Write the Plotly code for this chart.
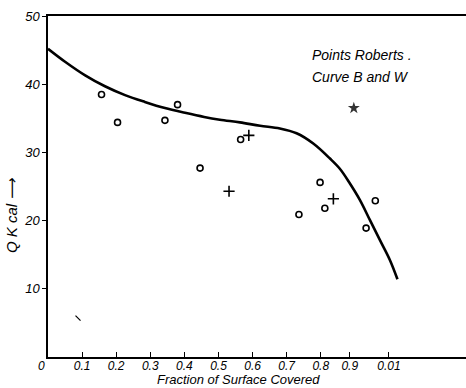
import plotly.graph_objects as go

# Curve B and W
curve_x = [0.0, 0.05, 0.109, 0.167, 0.226, 0.284, 0.343, 0.402, 0.458, 0.504, 0.563, 0.622, 0.68, 0.729, 0.778, 0.827, 0.856, 0.886, 0.915, 0.944, 0.974, 1.003, 1.025]
curve_y = [45.2, 43.3, 41.3, 39.7, 38.4, 37.4, 36.5, 35.8, 35.2, 34.8, 34.4, 33.9, 33.5, 32.8, 31.3, 29.1, 27.6, 25.4, 23.0, 20.1, 17.1, 14.2, 11.4]

# Points Roberts (circles)
circ_x = [0.157, 0.204, 0.343, 0.380, 0.446, 0.565, 0.736, 0.798, 0.812, 0.933, 0.960]
circ_y = [38.5, 34.4, 34.7, 37.0, 27.7, 31.9, 20.9, 25.6, 21.8, 18.9, 22.9]

# crosses
plus_x = [0.531, 0.589, 0.837]
plus_y = [24.3, 32.5, 23.2]

# ink blot and stray mark
blot_x = [0.897]
blot_y = [36.5]
stray_x = [0.088]
stray_y = [5.7]

tick_vals = [0, 0.1, 0.2, 0.3, 0.4, 0.5, 0.6, 0.7, 0.8, 0.885, 1.0]
tick_text = ["", "0.1", "0.2", "0.3", "0.4", "0.5", "0.6", "0.7", "0.8", "0.9", "0.01"]
y_ticks = [10, 20, 30, 40, 50]

FONT = "Liberation Sans"

fig = go.Figure()
fig.add_trace(go.Scatter(x=curve_x, y=curve_y, mode="lines", line=dict(color="black", width=2.6, shape="spline", smoothing=1.0), hoverinfo="skip"))
fig.add_trace(go.Scatter(x=circ_x, y=circ_y, mode="markers", marker=dict(symbol="circle-open", size=6, color="black", line=dict(width=1.6))))
fig.add_trace(go.Scatter(x=plus_x, y=plus_y, mode="markers", marker=dict(symbol="cross-thin-open", size=8, color="black", line=dict(width=1.6))))
fig.add_trace(go.Scatter(x=blot_x, y=blot_y, mode="markers", marker=dict(symbol="star", size=9, color="#333333", line=dict(width=0))))
fig.add_trace(go.Scatter(x=stray_x, y=stray_y, mode="markers", marker=dict(symbol="line-nw-open", size=5, color="black", line=dict(width=1.2))))

fig.update_layout(
    width=466, height=388,
    margin=dict(l=48, r=0, t=16, b=31),
    paper_bgcolor="white", plot_bgcolor="white",
    showlegend=False,
    font=dict(family=FONT, color="black"),
    xaxis=dict(range=[0, 1.226], tickmode="array", tickvals=tick_vals, ticktext=tick_text,
               showgrid=False, zeroline=False, showline=True, linecolor="black", linewidth=1.5,
               mirror=True, ticks="inside", ticklen=5, tickcolor="black", tickwidth=1,
               ticklabelstandoff=-3,
               tickfont=dict(family=FONT, size=12, style="italic")),
    yaxis=dict(range=[0, 50], tickmode="array", tickvals=y_ticks,
               showgrid=False, zeroline=False, showline=True, linecolor="black", linewidth=1.5,
               ticks="outside", ticklen=4, tickcolor="black", tickwidth=1,
               tickfont=dict(family=FONT, size=13, style="italic")),
    annotations=[
        dict(text="Points Roberts .", xref="paper", yref="paper", x=(310-48)/418, y=(357-55)/341,
             xanchor="left", yanchor="middle", showarrow=False, font=dict(family=FONT, size=14, style="italic")),
        dict(text="Curve B and W", xref="paper", yref="paper", x=(310-48)/418, y=(357-77)/341,
             xanchor="left", yanchor="middle", showarrow=False, font=dict(family=FONT, size=14, style="italic")),
        dict(text="Fraction of Surface Covered", xref="paper", yref="paper", x=(238-48)/418, y=(357-379)/341,
             xanchor="center", yanchor="middle", showarrow=False, font=dict(family=FONT, size=13, style="italic")),
        dict(text="Q K cal ⟶", xref="paper", yref="paper", x=(12-48)/418, y=(357-215)/341,
             xanchor="center", yanchor="middle", textangle=-90, showarrow=False, font=dict(family=FONT, size=15, style="italic")),
        dict(text="0", xref="paper", yref="paper", x=(41-48)/418, y=(357-366)/341,
             xanchor="center", yanchor="middle", showarrow=False, font=dict(family=FONT, size=12, style="italic")),
    ],
)
fig.write_html("out.html")
